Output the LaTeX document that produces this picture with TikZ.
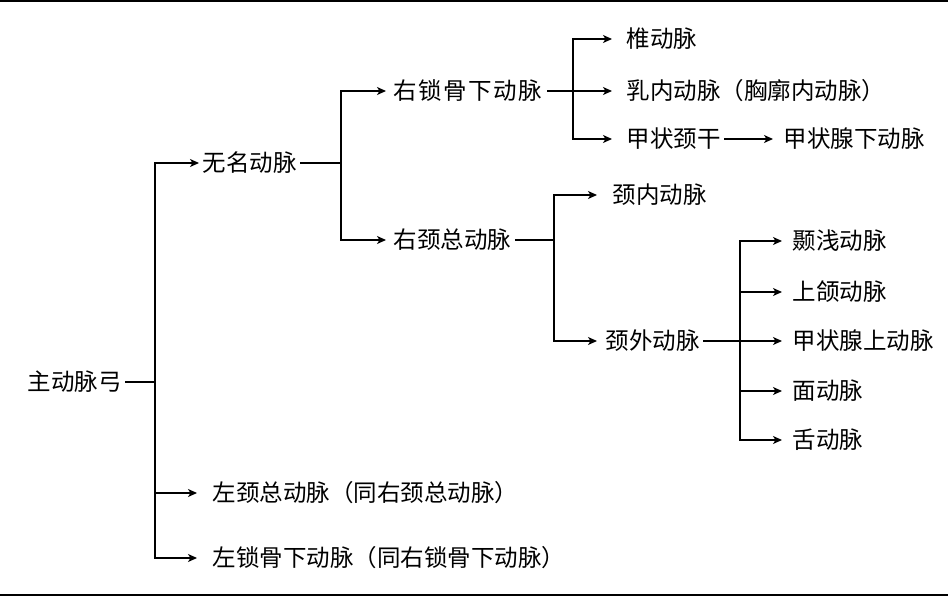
\documentclass[tikz,border=0pt]{standalone}
\usepackage{fontspec}
\setmainfont{Noto Sans CJK SC}
\usetikzlibrary{arrows.meta}
\begin{document}
\begin{tikzpicture}[x=1pt,y=-1pt, line width=1.3pt,
  lbl/.style={anchor=west, inner xsep=3pt, inner ysep=0pt, font=\fontsize{23.5}{28}\selectfont},
  arr/.style={-{Stealth[length=9pt,width=8pt,inset=2.5pt]}},
  rulebar/.style={line width=2pt}]
\useasboundingbox (0,0) rectangle (948,596);
\draw[rulebar] (0,1) -- (948,1);
\draw[rulebar] (0,595) -- (948,595);

% nodes
\node[lbl] (root) at (24,382) {主动脉弓};
\node[lbl] (a1) at (199,163) {无名动脉};
\node[lbl] (l1) at (209,493) {左颈总动脉（同右颈总动脉）};
\node[lbl] (l2) at (209,558) {左锁骨下动脉（同右锁骨下动脉）};
\node[lbl] (b1) at (390,91) {右\kern1.5pt锁\kern1.5pt骨\kern1.5pt下\kern1.5pt动\kern1.5pt脉};
\node[lbl] (b2) at (390,240) {右颈总动脉};
\node[lbl] (c1) at (623,39) {椎动脉};
\node[lbl] (c2) at (623,91) {乳内动脉（胸廓内动脉）};
\node[lbl] (c3) at (623,139) {甲状颈干};
\node[lbl] (d1) at (780,139) {甲状腺下动脉};
\node[lbl] (e1) at (609,195) {颈内动脉};
\node[lbl] (e2) at (602,341) {颈外动脉};
\node[lbl] (f1) at (789,241) {颞浅动脉};
\node[lbl] (f2) at (789,292) {上颌动脉};
\node[lbl] (f3) at (789,341) {甲状腺上动脉};
\node[lbl] (f4) at (789,391) {面动脉};
\node[lbl] (f5) at (789,440) {舌动脉};

% junctions
\coordinate (j0) at (155,382);
\coordinate (j1) at (341,163);
\coordinate (j2) at (573,91);
\coordinate (j3) at (554,240);
\coordinate (j4) at (740,341);
\coordinate (s1) at (547,91);

% connectors
\draw (root.east) -- (j0);
\draw[arr] (j0) |- (a1.west);
\draw[arr,shorten >=12pt] (j0) |- (l1.west);
\draw[arr,shorten >=12pt] (j0) |- (l2.west);

\draw (a1.east) -- (j1);
\draw[arr,shorten >=4pt] (j1) |- (b1.west);
\draw[arr,shorten >=4pt] (j1) |- (b2.west);

\draw[arr,shorten >=11pt] (s1) -- (c2.west);
\draw[arr,shorten >=11pt] (j2) |- (c1.west);
\draw[arr,shorten >=11pt] (j2) |- (c3.west);
\draw[arr,shorten >=7pt] (c3.east) -- (d1.west);

\draw (b2.east) -- (j3);
\draw[arr,shorten >=12pt] (j3) |- (e1.west);
\draw[arr,shorten >=5pt] (j3) |- (e2.west);

\draw[arr,shorten >=7pt] (e2.east) -- (f3.west);
\draw[arr,shorten >=7pt] (j4) |- (f1.west);
\draw[arr,shorten >=7pt] (j4) |- (f2.west);
\draw[arr,shorten >=7pt] (j4) |- (f4.west);
\draw[arr,shorten >=7pt] (j4) |- (f5.west);
\end{tikzpicture}
\end{document}
